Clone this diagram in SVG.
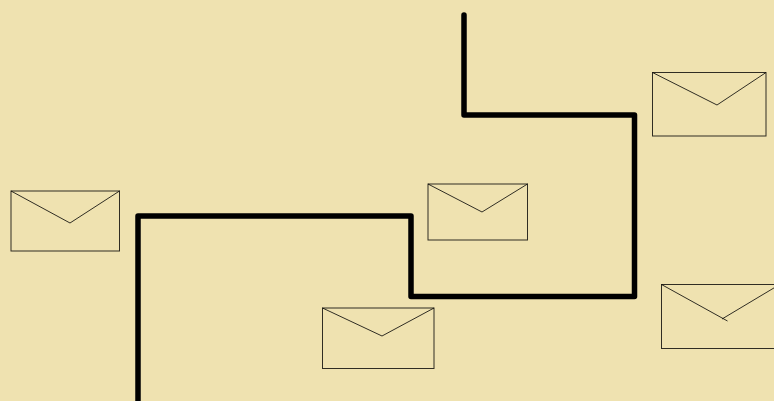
<svg xmlns="http://www.w3.org/2000/svg" width="774" height="401" viewBox="0 0 774 401">
<style>
.wire{fill:none;stroke:#000;stroke-width:5.500;stroke-linecap:round;stroke-linejoin:round}
.env{fill:none;stroke:#000;stroke-width:1;stroke-opacity:.8}
</style>
<rect width="774" height="401" fill="#efe2b0"/>
<g id="connectors">
<path class="wire" d="M464 15V115H634.500V296.500H411V216H138V403"/>
</g>
<g id="envelope-1">
<rect class="env" x="11" y="191" width="108.500" height="60"/>
<path class="env" d="M11 191L70 223L119.500 191"/>
</g>
<g id="envelope-2">
<rect class="env" x="652.500" y="72.500" width="113.500" height="63.500"/>
<path class="env" d="M652.500 72.500L717 105L766 72.500"/>
</g>
<g id="envelope-3">
<rect class="env" x="661.500" y="284.500" width="114" height="64"/>
<path class="env" d="M661.500 284.500L727.500 321M722 319L775.500 287"/>
</g>
<g id="envelope-4">
<rect class="env" x="428" y="184" width="99.500" height="56"/>
<path class="env" d="M428 184L482 212L527.500 184"/>
</g>
<g id="envelope-5">
<rect class="env" x="322.500" y="308" width="111.500" height="60.500"/>
<path class="env" d="M322.500 308L382 336L434 308"/>
</g>
</svg>
